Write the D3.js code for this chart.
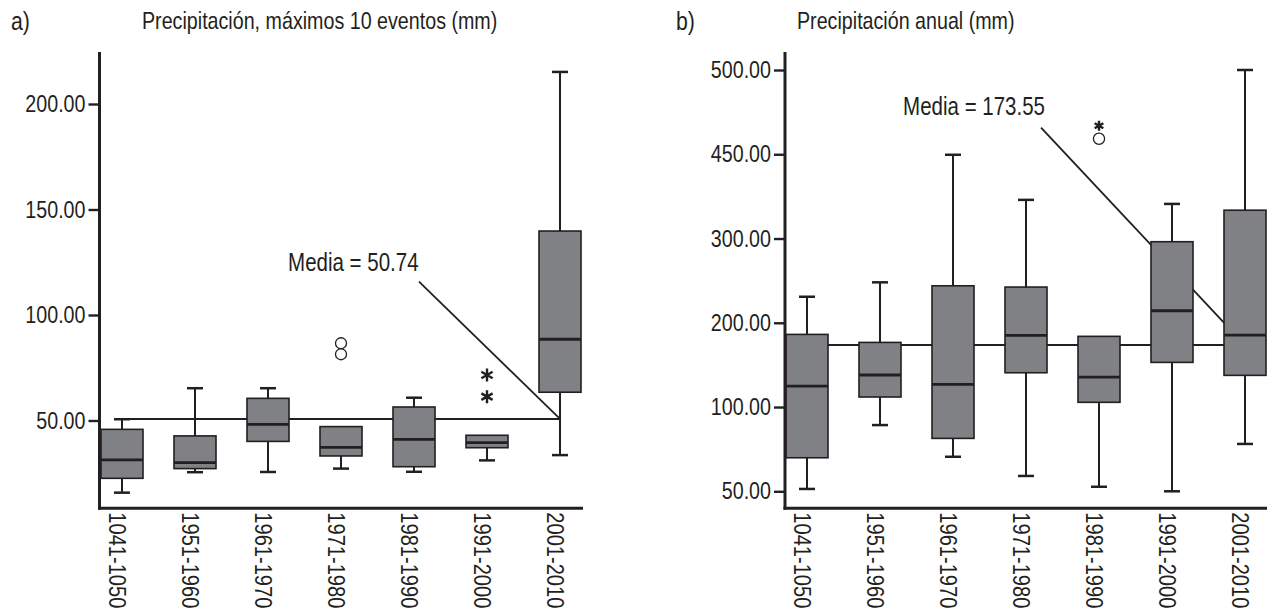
<!DOCTYPE html>
<html>
<head>
<meta charset="utf-8">
<script src="https://cdn.jsdelivr.net/npm/d3@7"></script>
<style>
  body { margin: 0; background: #fff; }
  svg text {
    font-family: "Liberation Sans", Arial, sans-serif;
    fill: #231f20;
  }
</style>
</head>
<body>
<div id="chart"></div>
<script>
// decades on the x axis (labels as printed, including "1041-1050")
const periods = ["1041-1050", "1951-1960", "1961-1970", "1971-1980", "1981-1990", "1991-2000", "2001-2010"];

// a) Precipitación, máximos 10 eventos (mm)
const maxLow    = [15.8, 25.5, 25.6, 27.2, 25.7, 31.1, 33.6];
const maxQ1     = [22.6, 27.2, 40.1, 33.2, 28.1, 37.1, 63.4];
const maxMedian = [31.3, 30.0, 48.2, 37.3, 41.1, 39.5, 88.5];
const maxQ3     = [45.8, 42.7, 60.5, 47.1, 56.4, 43.0, 139.8];
const maxHigh   = [50.6, 65.3, 65.3, 47.1, 60.8, 43.0, 215.2];
const maxCircles = [["1971-1980", 86.6], ["1971-1980", 81.4]];
const maxStars   = [["1991-2000", 71.6], ["1991-2000", 61.3]];
const maxMean = 50.74;
const maxTicks = [50, 100, 150, 200];

// b) Precipitación anual (mm) -- axis labels are not evenly spaced in value
const annLow    = [51.4, 89.3, 70.5, 59.1, 52.7, 50.0, 78.1];
const annQ1     = [69.9, 111.9, 81.4, 140.7, 105.6, 153.0, 137.6];
const annMedian = [124.9, 138.0, 126.9, 185.1, 135.6, 214.3, 185.3];
const annQ3     = [186.2, 176.7, 243.9, 242.4, 183.9, 296.2, 350.4];
const annHigh   = [230.9, 248.0, 449.1, 368.8, 183.9, 361.6, 500.0];
const annCircles = [["1981-1990", 459.2]];
const annStars   = [["1981-1990", 466.9]];
const annMean = 173.55;
const annTicks = [50, 100, 200, 300, 450, 500];

const ink = "#231f20";
const boxFill = "#808185";
const narrow = 0.82;   // no condensed font installed: squeeze Liberation Sans horizontally

const svg = d3.select("#chart").append("svg")
    .attr("width", 1267)
    .attr("height", 613);

const panels = [
  {
    letter: "a)", letterX: 11, title: "Precipitación, máximos 10 eventos (mm)", titleX: 142,
    axisX: 99.5, xEnd: 583, top: 52, bottom: 508.3, firstCenter: 122, step: 73,
    y: d3.scaleLinear().domain([50, 200]).range([420.5, 104]),
    ticks: maxTicks,
    low: maxLow, q1: maxQ1, median: maxMedian, q3: maxQ3, high: maxHigh,
    circles: maxCircles, stars: maxStars, starR: 6.5, circleR: 5.5,
    mean: maxMean, labelEnd: [418.6, 270.7], leaderStart: [419, 281.7]
  },
  {
    letter: "b)", letterX: 676, title: "Precipitación anual (mm)", titleX: 797,
    axisX: 785, xEnd: 1267, top: 52, bottom: 508.3, firstCenter: 807, step: 73,
    // one evenly spaced position per printed tick
    y: d3.scaleLinear().domain(annTicks).range(annTicks.map((d, i) => 491.3 - i * 84.26)),
    ticks: annTicks,
    low: annLow, q1: annQ1, median: annMedian, q3: annQ3, high: annHigh,
    circles: annCircles, stars: annStars, starR: 5, circleR: 5.6,
    mean: annMean, labelEnd: [1045, 115], leaderStart: [1041, 127.7]
  }
];

panels.forEach(drawPanel);

// text placed at (x, y) and squeezed to look like a narrow face
function narrowText(parent, x, y, size, str, anchor) {
  return parent.append("text")
      .attr("transform", `translate(${x},${y}) scale(${narrow},1)`)
      .style("font-size", size + "px")
      .style("text-anchor", anchor || "start")
      .text(str);
}

function drawPanel(p) {
  const g = svg.append("g");
  const x = d3.scalePoint()
      .domain(periods)
      .range([p.firstCenter, p.firstCenter + p.step * (periods.length - 1)]);
  const y = p.y;
  const boxW = 42, capW = 16;

  const rows = periods.map((d, i) => ({
    period: d, low: p.low[i], q1: p.q1[i], median: p.median[i], q3: p.q3[i], high: p.high[i]
  }));

  // panel letter + title
  narrowText(g, p.letterX, 30, 26, p.letter);
  narrowText(g, p.titleX, 29, 24, p.title);

  // mean reference line and its leader (drawn behind the boxes)
  const xFirst = x(periods[0]), xLast = x(periods[periods.length - 1]);
  g.append("line")
      .attr("x1", xFirst).attr("x2", xLast)
      .attr("y1", y(p.mean)).attr("y2", y(p.mean))
      .attr("stroke", ink).attr("stroke-width", 2);
  g.append("line")
      .attr("x1", p.leaderStart[0]).attr("y1", p.leaderStart[1])
      .attr("x2", xLast).attr("y2", y(p.mean))
      .attr("stroke", ink).attr("stroke-width", 1.8);
  narrowText(g, p.labelEnd[0], p.labelEnd[1], 25, "Media = " + p.mean.toFixed(2), "end");

  // whiskers
  const boxes = g.selectAll(".box").data(rows).join("g").attr("class", "box");
  boxes.append("line")
      .attr("x1", d => x(d.period)).attr("x2", d => x(d.period))
      .attr("y1", d => y(d.low)).attr("y2", d => y(d.high))
      .attr("stroke", ink).attr("stroke-width", 2);
  boxes.filter(d => d.high > d.q3).append("line")
      .attr("x1", d => x(d.period) - capW / 2).attr("x2", d => x(d.period) + capW / 2)
      .attr("y1", d => y(d.high)).attr("y2", d => y(d.high))
      .attr("stroke", ink).attr("stroke-width", 2.5);
  boxes.filter(d => d.low < d.q1).append("line")
      .attr("x1", d => x(d.period) - capW / 2).attr("x2", d => x(d.period) + capW / 2)
      .attr("y1", d => y(d.low)).attr("y2", d => y(d.low))
      .attr("stroke", ink).attr("stroke-width", 2.5);

  // boxes
  boxes.append("rect")
      .attr("x", d => x(d.period) - boxW / 2)
      .attr("width", boxW)
      .attr("y", d => y(d.q3))
      .attr("height", d => y(d.q1) - y(d.q3))
      .attr("fill", boxFill)
      .attr("stroke", ink).attr("stroke-width", 1.6);
  boxes.append("line")
      .attr("x1", d => x(d.period) - boxW / 2).attr("x2", d => x(d.period) + boxW / 2)
      .attr("y1", d => y(d.median)).attr("y2", d => y(d.median))
      .attr("stroke", ink).attr("stroke-width", 2.8);

  // outliers: circles and extremes (asterisks)
  g.selectAll(".outlier").data(p.circles).join("circle")
      .attr("class", "outlier")
      .attr("cx", d => x(d[0])).attr("cy", d => y(d[1]))
      .attr("r", p.circleR)
      .attr("fill", "#fff").attr("stroke", ink).attr("stroke-width", 1.3);
  const star = d3.symbol().type(d3.symbolAsterisk).size(p.starR * p.starR * 2.8);
  g.selectAll(".extreme").data(p.stars).join("path")
      .attr("class", "extreme")
      .attr("transform", d => `translate(${x(d[0])},${y(d[1])})`)
      .attr("d", star)
      .attr("fill", "none").attr("stroke", ink).attr("stroke-width", 2.4);

  // y axis
  const yAxisG = g.append("g")
      .attr("transform", `translate(${p.axisX},0)`)
      .call(d3.axisLeft(y).tickValues(p.ticks).tickFormat(d3.format(".2f"))
          .tickSize(11).tickPadding(3).tickSizeOuter(0));
  yAxisG.select(".domain").remove();
  yAxisG.selectAll(".tick line").attr("stroke", ink).attr("stroke-width", 2.4);
  yAxisG.selectAll(".tick text")
      .attr("x", -14 / narrow)
      .attr("transform", `scale(${narrow},1)`)
      .style("font-size", "24px")
      .attr("fill", ink);

  // x axis with rotated period labels
  const xAxisG = g.append("g")
      .attr("transform", `translate(0,${p.bottom})`)
      .call(d3.axisBottom(x).tickSize(0).tickSizeOuter(0));
  xAxisG.select(".domain").remove();
  xAxisG.selectAll(".tick text")
      .attr("transform", `rotate(90) scale(${narrow},1)`)
      .attr("x", 4 / narrow)
      .attr("y", 5)
      .attr("dy", "0.35em")
      .style("text-anchor", "start")
      .style("font-size", "24.5px")
      .attr("fill", ink);

  // axis lines
  g.append("line")
      .attr("x1", p.axisX).attr("x2", p.axisX)
      .attr("y1", p.top).attr("y2", p.bottom + 1.5)
      .attr("stroke", ink).attr("stroke-width", 3);
  g.append("line")
      .attr("x1", p.axisX - 1.5).attr("x2", p.xEnd)
      .attr("y1", p.bottom).attr("y2", p.bottom)
      .attr("stroke", ink).attr("stroke-width", 3);
}
</script>
</body>
</html>
